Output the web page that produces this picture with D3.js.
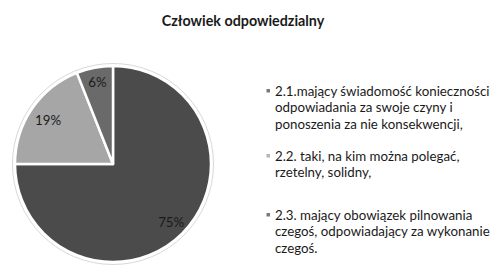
<!DOCTYPE html>
<html><head><meta charset="utf-8">
<script src="https://cdn.jsdelivr.net/npm/d3@7"></script>
<style>body{margin:0;background:#fff}svg{display:block}</style>
</head><body>
<svg id="c" width="495" height="268"></svg>
<script>
const title = "Człowiek odpowiedzialny";
const categories = [
  ["2.1.mający świadomość konieczności", "odpowiadania za swoje czyny i", "ponoszenia za nie konsekwencji,"],
  ["2.2. taki, na kim można polegać,", "rzetelny, solidny,"],
  ["2.3. mający obowiązek pilnowania", "czegoś, odpowiadający za wykonanie", "czegoś."]
];
const values = [75, 19, 6];
const labels = ["75%", "19%", "6%"];
const colors = ["#4b4b4b", "#a6a6a6", "#6a6a6a"];

const svg = d3.select("#c");
const font = "Lato, 'Open Sans', sans-serif";
svg.append("text").attr("x", 243).attr("y", 26).attr("text-anchor", "middle")
  .attr("font-family", font).attr("font-weight", "bold").attr("font-size", 14.3)
  .attr("fill", "#1a1a1a").text(title);

const cx = 113, cy = 164, r = 98;
const g = svg.append("g").attr("transform", `translate(${cx},${cy})`);
const pie = d3.pie().sort(null).value(d => d);
const arcs = pie(values);
const arc = d3.arc().innerRadius(0).outerRadius(r);
g.append("circle").attr("r", r + 2.5).attr("fill", "none").attr("stroke", "#d8d8d8").attr("stroke-width", 1);
g.selectAll("path").data(arcs).join("path")
  .attr("d", arc).attr("fill", (d, i) => colors[i])
  .attr("stroke", "#fff").attr("stroke-width", 2.5).attr("stroke-linejoin", "round");
const labelR = [0.84, 0.80, 0.85];
g.selectAll("text.lab").data(arcs).join("text").attr("class", "lab")
  .attr("transform", (d, i) => `translate(${d3.arc().innerRadius(r*labelR[i]).outerRadius(r*labelR[i]).centroid(d)})`)
  .attr("text-anchor", "middle").attr("dy", "0.35em")
  .attr("font-family", font).attr("font-size", 13.3).attr("fill", "#1a1a1a")
  .text((d, i) => labels[i]);

const legY = [91, 156, 215];
const lg = svg.append("g");
categories.forEach((lines, i) => {
  lg.append("rect").attr("x", 266.5).attr("y", legY[i] - 2).attr("width", 3.5).attr("height", 3.5).attr("fill", colors[i] === "#a6a6a6" ? "#b5b5b5" : "#7a7a7a");
  lines.forEach((t, j) => {
    lg.append("text").attr("x", 275).attr("y", legY[i] + j * 16.5).attr("dy", "0.35em")
      .attr("font-family", font).attr("font-size", 13.3).attr("fill", "#1a1a1a").text(t);
  });
});
</script>
</body></html>
